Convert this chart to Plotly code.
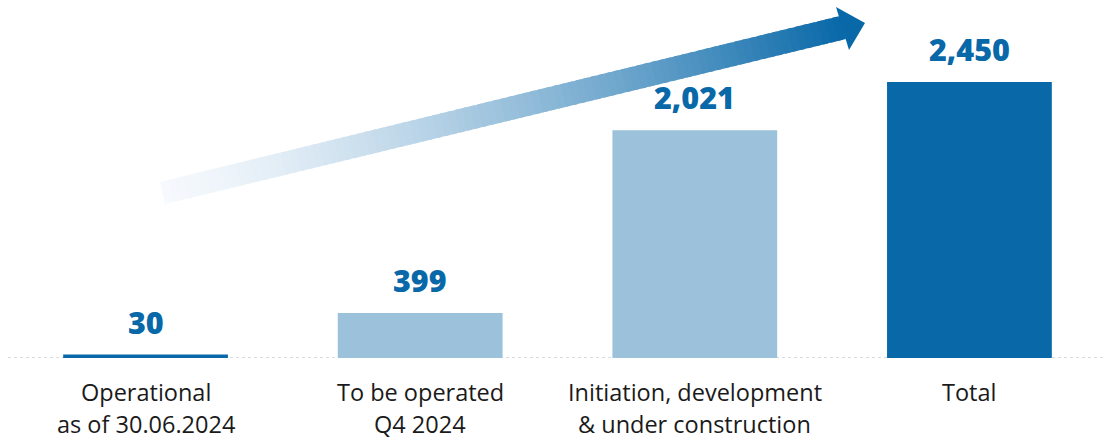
import plotly.graph_objects as go

# Capacity pipeline (MW)
categories = ["Operational", "To be operated", "Initiation, development", "Total"]
values = [30, 399, 2021, 2450]
label_lines = [
    ["Operational", "as of 30.06.2024"],
    ["To be operated", "Q4 2024"],
    ["Initiation, development", "& under construction"],
    ["Total"],
]

DARK = "#0868a8"
LIGHT = "#9cc2db"
bar_colors = [DARK, LIGHT, LIGHT, DARK]

W, H = 1104, 441
MB = 83                      # bottom margin holding the category labels
PH = H - MB                  # plot-area height in pixels


def px(x, y):
    """Pixel position inside the plot area -> paper coordinates."""
    return x / W, 1 - y / PH


fig = go.Figure(
    go.Bar(
        x=categories,
        y=values,
        marker=dict(color=bar_colors, line=dict(width=0)),
        hoverinfo="skip",
    )
)

shapes = []

# dotted baseline
shapes.append(dict(type="line", xref="paper", yref="y", x0=8 / W, x1=1, y0=0, y1=0,
                   line=dict(color="#b9b9b9", width=1.2, dash="dot"), layer="below"))

# rising arrow with a white-to-blue gradient, built from thin slices
tail_top, tail_bot = (160, 182), (165, 204)
base_top, base_bot = (840, 16), (846, 39)
c0, c1 = (246, 249, 253), (8, 104, 168)
N = 90


def lerp(a, b, t):
    return (a[0] + (b[0] - a[0]) * t, a[1] + (b[1] - a[1]) * t)


for i in range(N):
    t0 = i / N
    t1 = min(1.0, (i + 1.6) / N)
    tm = ((i + 0.5) / N) ** 1.4
    col = "rgb({},{},{})".format(*[round(c0[k] + (c1[k] - c0[k]) * tm) for k in range(3)])
    pts = [lerp(tail_top, base_top, t0), lerp(tail_top, base_top, t1),
           lerp(tail_bot, base_bot, t1), lerp(tail_bot, base_bot, t0)]
    pts = [px(*p) for p in pts]
    path = "M " + " L ".join(f"{x:.5f},{y:.5f}" for x, y in pts) + " Z"
    shapes.append(dict(type="path", xref="paper", yref="paper", path=path,
                       fillcolor=col, line=dict(width=0), layer="above"))

head = [px(836, 7), px(865, 23), px(849, 50)]
shapes.append(dict(type="path", xref="paper", yref="paper",
                   path="M " + " L ".join(f"{x:.5f},{y:.5f}" for x, y in head) + " Z",
                   fillcolor="rgb(8,104,168)", line=dict(width=0), layer="above"))

annotations = []
# value labels above the bars
for c, v in zip(categories, values):
    annotations.append(dict(x=c, y=v, xref="x", yref="y", text=f"{v:,}", showarrow=False,
                            yanchor="middle", yshift=33,
                            font=dict(family="Open Sans", size=30.5, color=DARK, weight=800)))

# two-line category labels under the baseline
for c, lines in zip(categories, label_lines):
    for j, line in enumerate(lines):
        annotations.append(dict(x=c, y=0, xref="x", yref="y", text=line, showarrow=False,
                                yanchor="middle", yshift=-34 - 32 * j,
                                font=dict(family="Open Sans", size=23.5, color="#1a1a1a")))

fig.update_layout(
    width=W, height=H,
    margin=dict(l=0, r=0, t=0, b=MB),
    paper_bgcolor="white", plot_bgcolor="white",
    bargap=0.4,
    showlegend=False,
    shapes=shapes,
    annotations=annotations,
    xaxis=dict(range=[-0.53, 3.49], showticklabels=False, showgrid=False,
               zeroline=False, showline=False, ticks=""),
    yaxis=dict(range=[0, PH / 0.11265], visible=False, showgrid=False, zeroline=False),
)

fig.write_html("out.html")
